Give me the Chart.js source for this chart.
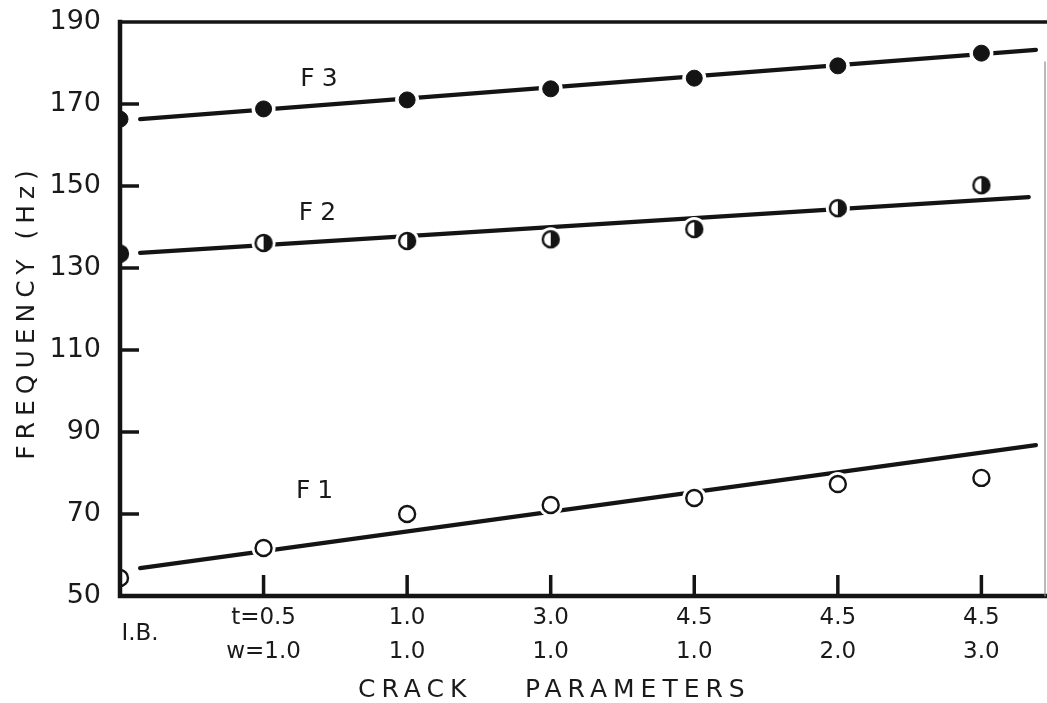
<!DOCTYPE html>
<html>
<head>
<meta charset="utf-8">
<script src="https://cdn.jsdelivr.net/npm/chart.js@4.4.1/dist/chart.umd.min.js"></script>
<style>
  html, body { margin: 0; padding: 0; background: #ffffff; }
  #wrap { width: 1047px; height: 703px; position: relative; }
</style>
</head>
<body>
<div id="wrap"><canvas id="c" width="1047" height="703"></canvas></div>
<script>
// ---------- data ----------
const catTop    = ['I.B.', 't=0.5', '1.0', '3.0', '4.5', '4.5', '4.5'];
const catBottom = ['',     'w=1.0', '1.0', '1.0', '1.0', '2.0', '3.0'];
const catPos    = [0, 1, 2, 3, 4, 5, 6];

const f1 = [54.4, 61.7, 70.0, 72.2, 73.9, 77.3, 78.8];
const f2 = [133.5, 136.1, 136.6, 137.0, 139.5, 144.6, 150.2];
const f3 = [166.3, 168.8, 171.0, 173.7, 176.3, 179.3, 182.4];

const f1FitX = [0.14, 6.38];  const f1FitY = [56.8, 86.8];
const f2FitX = [0.14, 6.33];  const f2FitY = [133.7, 147.3];
const f3FitX = [0.14, 6.38];  const f3FitY = [166.3, 183.2];

const yTicks = [50, 70, 90, 110, 130, 150, 170, 190];

const seriesNames = ['F1', 'F2', 'F3'];
const seriesLabelX = [1.38, 1.40, 1.41];
const seriesLabelY = [75.6, 143.4, 176.0];

const xTitleWords = ['CRACK', 'PARAMETERS'];
const yTitle = 'FREQUENCY (Hz)';

// ---------- helpers ----------
const INK = '#141414';
const FONT = "'DejaVu Sans', 'Liberation Sans', sans-serif";
const pts = (ys) => catPos.map((x, i) => ({ x: x, y: ys[i] }));
const fit = (xs, ys) => xs.map((x, i) => ({ x: x, y: ys[i] }));

// half-filled marker (left open, right filled)
function halfMarker() {
  const s = 22, c = document.createElement('canvas');
  c.width = s; c.height = s;
  const g = c.getContext('2d'), r = 8, cx = s / 2, cy = s / 2;
  g.fillStyle = '#ffffff';
  g.beginPath(); g.arc(cx, cy, r, 0, Math.PI * 2); g.fill();
  g.fillStyle = INK;
  g.beginPath(); g.arc(cx, cy, r, -Math.PI / 2, Math.PI / 2); g.closePath(); g.fill();
  g.strokeStyle = INK; g.lineWidth = 2.4;
  g.beginPath(); g.arc(cx, cy, r, 0, Math.PI * 2); g.stroke();
  return c;
}
const halfImg = halfMarker();

const clipLeft = { left: 0, top: false, right: false, bottom: false };

function lineDs(data) {
  return { data, showLine: true, borderColor: INK, borderWidth: 4.2, pointRadius: 0,
           fill: false, order: 3, clip: false, borderCapStyle: 'round' };
}
function haloDs(data) {
  return { data, showLine: false, pointRadius: 12, pointBackgroundColor: '#ffffff',
           pointBorderWidth: 0, pointBorderColor: '#ffffff', order: 2, clip: clipLeft };
}

const decor = {
  id: 'decor',
  afterDraw(chart) {
    const ctx = chart.ctx, xs = chart.scales.x, ys = chart.scales.y;
    const { left, right, top, bottom } = chart.chartArea;
    ctx.save();
    ctx.strokeStyle = INK; ctx.lineCap = 'square';
    // frame
    ctx.lineWidth = 4.5;
    ctx.beginPath(); ctx.moveTo(left, top); ctx.lineTo(left, bottom); ctx.lineTo(right, bottom); ctx.stroke();
    ctx.lineWidth = 3.5;
    ctx.beginPath(); ctx.moveTo(left, top); ctx.lineTo(right, top); ctx.stroke();
    ctx.lineWidth = 1.2; ctx.strokeStyle = '#8a8a8a';
    ctx.beginPath(); ctx.moveTo(right - 1, top + 40); ctx.lineTo(right - 1, bottom); ctx.stroke();
    // inward ticks
    ctx.strokeStyle = INK; ctx.lineWidth = 3.5; ctx.lineCap = 'butt';
    yTicks.forEach(v => {
      if (v === yTicks[0] || v === yTicks[yTicks.length - 1]) return;
      const py = ys.getPixelForValue(v);
      ctx.beginPath(); ctx.moveTo(left, py); ctx.lineTo(left + 19, py); ctx.stroke();
    });
    catPos.forEach(v => {
      if (v === 0) return;
      const px = xs.getPixelForValue(v);
      ctx.beginPath(); ctx.moveTo(px, bottom); ctx.lineTo(px, bottom - 21); ctx.stroke();
    });
    // x category labels
    ctx.fillStyle = '#1a1a1a';
    ctx.font = '23px ' + FONT;
    ctx.textAlign = 'center'; ctx.textBaseline = 'middle';
    catPos.forEach((v, i) => {
      const px = xs.getPixelForValue(v);
      if (catBottom[i] === '') {
        ctx.fillText(catTop[i], px + 20, bottom + 38);
      } else {
        ctx.fillText(catTop[i], px, bottom + 22);
        ctx.fillText(catBottom[i], px, bottom + 56);
      }
    });
    // axis titles
    ctx.font = '25px ' + FONT;
    ctx.letterSpacing = '6px';
    ctx.textAlign = 'left';
    ctx.fillText(xTitleWords[0], left + 238, bottom + 94);
    ctx.fillText(xTitleWords[1], left + 405, bottom + 94);
    ctx.save();
    ctx.translate(27, (top + bottom) / 2 + 3);
    ctx.rotate(-Math.PI / 2);
    ctx.textAlign = 'center';
    ctx.fillText(yTitle, 0, 0);
    ctx.restore();
    // series labels
    ctx.font = '25px ' + FONT;
    ctx.letterSpacing = '7px';
    ctx.textAlign = 'center';
    seriesNames.forEach((n, i) => {
      ctx.fillText(n, xs.getPixelForValue(seriesLabelX[i]), ys.getPixelForValue(seriesLabelY[i]));
    });
    ctx.restore();
  }
};

new Chart(document.getElementById('c'), {
  type: 'scatter',
  data: {
    datasets: [
      { label: 'F3', data: pts(f3), pointStyle: 'circle', pointRadius: 8, pointBackgroundColor: INK,
        pointBorderColor: INK, pointBorderWidth: 1, order: 1, clip: clipLeft },
      { label: 'F2', data: pts(f2), pointStyle: halfImg, order: 1, clip: clipLeft },
      { label: 'F1', data: pts(f1), pointStyle: 'circle', pointRadius: 8, pointBackgroundColor: '#ffffff',
        pointBorderColor: INK, pointBorderWidth: 2.4, order: 1, clip: clipLeft },
      haloDs(pts(f3)), haloDs(pts(f2)), haloDs(pts(f1)),
      lineDs(fit(f3FitX, f3FitY)), lineDs(fit(f2FitX, f2FitY)), lineDs(fit(f1FitX, f1FitY))
    ]
  },
  options: {
    responsive: false,
    animation: false,
    layout: { autoPadding: false, padding: { top: 22, right: 1, left: 0, bottom: 0 } },
    plugins: { legend: { display: false }, tooltip: { enabled: false } },
    scales: {
      x: {
        type: 'linear', min: 0, max: 6.45,
        afterBuildTicks: (s) => { s.ticks = catPos.map(v => ({ value: v })); },
        afterFit: (s) => { s.height = 107; s.paddingLeft = 0; s.paddingRight = 0; },
        grid: { display: false }, border: { display: false },
        ticks: { display: false }
      },
      y: {
        type: 'linear', min: 50, max: 190,
        afterBuildTicks: (s) => { s.ticks = yTicks.map(v => ({ value: v })); },
        afterFit: (s) => { s.width = 120; s.paddingTop = 0; s.paddingBottom = 0; },
        grid: { display: false, drawTicks: false }, border: { display: false },
        ticks: { color: '#1a1a1a', padding: 19, font: { family: FONT, size: 27 } }
      }
    }
  },
  plugins: [decor]
});
</script>
</body>
</html>
